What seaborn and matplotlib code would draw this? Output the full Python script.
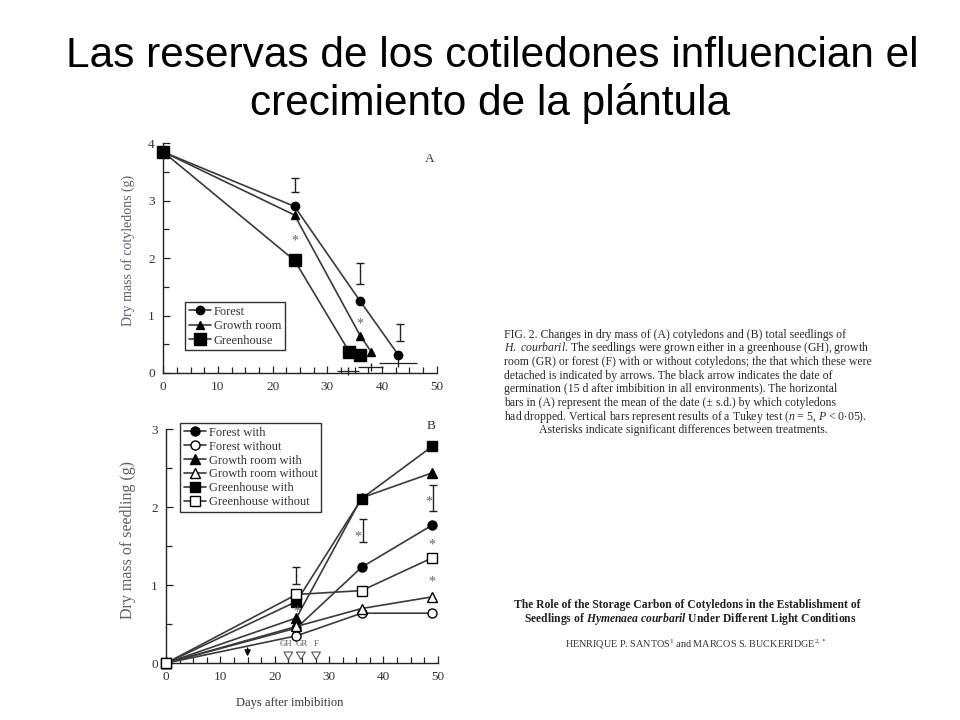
import matplotlib
matplotlib.use("Agg")
import matplotlib.pyplot as plt
import seaborn as sns
import numpy as np
from matplotlib.ticker import MultipleLocator

# ---------------- data ----------------
# Panel A: dry mass of cotyledons (g)
days_A_forest = [0, 24, 36, 43]
forest_A = [3.85, 2.90, 1.25, 0.31]
days_A_growth = [0, 24, 36, 38]
growth_A = [3.85, 2.75, 0.65, 0.37]
days_A_green = [0, 24, 34, 36]
green_A = [3.85, 1.96, 0.37, 0.32]

tukey_A_x = [24, 36, 43.2]
tukey_A_low = [3.15, 1.55, 0.55]
tukey_A_high = [3.40, 1.92, 0.85]

drop_A_mean = [42.9, 37.9, 33.7]
drop_A_y = [0.17, 0.10, 0.03]
drop_A_sd = [3.5, 2.3, 2.0]

star_A_x = [24, 36]
star_A_y = [2.30, 0.85]

# Panel B: dry mass of seedling (g)
days_B = [0, 24, 36, 49]
forest_with = [0, 0.45, 1.23, 1.77]
forest_without = [0, 0.35, 0.64, 0.64]
growth_with = [0, 0.58, 2.12, 2.44]
growth_without = [0, 0.47, 0.70, 0.85]
green_with = [0, 0.79, 2.11, 2.78]
green_without = [0, 0.88, 0.93, 1.35]

tukey_B_x = [24, 36.2, 49.2]
tukey_B_low = [1.02, 1.55, 1.95]
tukey_B_high = [1.23, 1.85, 2.28]

star_B_x = [24, 35.2, 48.3, 49, 49]
star_B_y = [0.66, 1.62, 2.07, 1.52, 1.04]

germination_day = 15
detach_days = [22.5, 24.8, 27.6]
detach_labels = ["GH", "GR", "F"]
detach_label_x = [22.1, 25.0, 27.7]

# ---------------- style ----------------
sns.set_style("ticks")
plt.rcParams["font.family"] = ["Liberation Serif", "DejaVu Serif"]
plt.rcParams["mathtext.fontset"] = "custom"
plt.rcParams["mathtext.rm"] = "Liberation Serif"
plt.rcParams["mathtext.it"] = "Liberation Serif:italic"
plt.rcParams["mathtext.bf"] = "Liberation Serif:bold"
plt.rcParams["mathtext.bfit"] = "Liberation Serif:italic:bold"

LINE = "#3a3a3a"
TXT = "#333333"

fig = plt.figure(figsize=(9.6, 7.2), dpi=100)
fig.patch.set_facecolor("white")


def style_axes(ax, ymax):
    ax.set_xlim(0, 50)
    ax.set_ylim(0, ymax)
    ax.spines["top"].set_visible(False)
    ax.spines["right"].set_visible(False)
    for s in ["left", "bottom"]:
        ax.spines[s].set_linewidth(1.0)
        ax.spines[s].set_color("#222222")
    ax.xaxis.set_major_locator(MultipleLocator(10))
    ax.xaxis.set_minor_locator(MultipleLocator(2.5))
    ax.yaxis.set_major_locator(MultipleLocator(1))
    ax.yaxis.set_minor_locator(MultipleLocator(0.5))
    ax.tick_params(which="both", direction="in", color="#222222", width=0.9,
                   labelsize=9.5, labelcolor=TXT)
    ax.tick_params(which="major", length=5, pad=6)
    ax.tick_params(which="minor", length=4)
    ax.set_xlabel("")
    ax.set_ylabel("")
    ax.set_facecolor("white")


def series(ax, x, y, marker, ms, face, label):
    sns.lineplot(x=x, y=y, ax=ax, color=LINE, lw=1.2, marker=marker,
                 markersize=ms, markerfacecolor=face, markeredgecolor="black",
                 markeredgewidth=1.0, label=label, clip_on=False, zorder=3)


# ---------------- Panel A ----------------
axA = fig.add_axes([0.170, 0.482, 0.285, 0.319])
series(axA, days_A_forest, forest_A, "o", 6, "black", "Forest")
series(axA, days_A_growth, growth_A, "^", 6, "black", "Growth room")
series(axA, days_A_green, green_A, "s", 8, "black", "Greenhouse")
style_axes(axA, 4)

mid = [(l + h) / 2 for l, h in zip(tukey_A_low, tukey_A_high)]
half = [(h - l) / 2 for l, h in zip(tukey_A_low, tukey_A_high)]
axA.errorbar(tukey_A_x, mid, yerr=half, fmt="none", ecolor="#222222",
             elinewidth=1.0, capsize=3, capthick=1.0)
axA.errorbar(drop_A_mean, drop_A_y, xerr=drop_A_sd, fmt="|", color="#222222",
             ms=6, elinewidth=0.9, capsize=0, clip_on=False)
for x, y in zip(star_A_x, star_A_y):
    axA.text(x, y, "*", ha="center", va="center", fontsize=10, color="#666666")
axA.text(48.7, 3.72, "A", ha="center", va="center", fontsize=9.5, color=TXT)
legA = axA.legend(loc="upper left", bbox_to_anchor=(0.08, 0.309), borderaxespad=0,
                  frameon=True, fancybox=False, edgecolor="black", fontsize=9,
                  handlelength=1.8, handletextpad=0.2, labelspacing=0.2,
                  borderpad=0.3, labelcolor=TXT)
legA.get_frame().set_linewidth(1.0)
fig.text(0.133, 1 - 250 / 720, "Dry mass of cotyledons (g)", rotation=90,
         ha="center", va="center", fontsize=10, color="#5a5f70")

# ---------------- Panel B ----------------
axB = fig.add_axes([0.173, 0.079, 0.283, 0.325])
series(axB, days_B, forest_with, "o", 6.5, "black", "Forest with")
series(axB, days_B, forest_without, "o", 6.5, "white", "Forest without")
series(axB, days_B, growth_with, "^", 6.5, "black", "Growth room with")
series(axB, days_B, growth_without, "^", 6.5, "white", "Growth room without")
series(axB, days_B, green_with, "s", 7.5, "black", "Greenhouse with")
series(axB, days_B, green_without, "s", 7.5, "white", "Greenhouse without")
style_axes(axB, 3)

mid = [(l + h) / 2 for l, h in zip(tukey_B_low, tukey_B_high)]
half = [(h - l) / 2 for l, h in zip(tukey_B_low, tukey_B_high)]
axB.errorbar(tukey_B_x, mid, yerr=half, fmt="none", ecolor="#222222",
             elinewidth=1.0, capsize=3, capthick=1.0, clip_on=False)
for x, y in zip(star_B_x, star_B_y):
    axB.text(x, y, "*", ha="center", va="center", fontsize=10, color="#666666")

axB.annotate("", xy=(germination_day, 0.05), xytext=(germination_day, 0.23),
             arrowprops=dict(arrowstyle="-|>", color="black", lw=1.0,
                             mutation_scale=9))
for x, lx, lab in zip(detach_days, detach_label_x, detach_labels):
    axB.annotate("", xy=(x, 0.01), xytext=(x, 0.17),
                 arrowprops=dict(arrowstyle="simple,head_width=0.7,head_length=0.6,tail_width=0.3",
                                 fc="white", ec="#555555", lw=0.8,
                                 mutation_scale=9))
    axB.text(lx, 0.245, lab, ha="center", va="center", fontsize=6.3, color="#555555")

axB.text(48.7, 3.04, "B", ha="center", va="center", fontsize=9.5, color=TXT)
legB = axB.legend(loc="upper left", bbox_to_anchor=(0.051, 1.026), borderaxespad=0,
                  frameon=True, fancybox=False, edgecolor="black", fontsize=9,
                  handlelength=1.8, handletextpad=0.2, labelspacing=0.15,
                  borderpad=0.3, labelcolor=TXT)
legB.get_frame().set_linewidth(1.0)
fig.text(0.133, 1 - 540 / 720, "Dry mass of seedling (g)", rotation=90,
         ha="center", va="center", fontsize=11.5, color="#5a5f70")
fig.text(0.302, 1 - 703 / 720, "Days after imbibition", ha="center", va="center",
         fontsize=9, color=TXT)

# ---------------- slide title ----------------
fig.text(0.513, 1 - 67 / 720, "Las reservas de los cotiledones influencian el",
         ha="center", va="baseline", fontsize=30.5, family="Liberation Sans",
         color="black")
fig.text(0.511, 1 - 115 / 720, "crecimiento de la plántula",
         ha="center", va="baseline", fontsize=30.5, family="Liberation Sans",
         color="black")

# ---------------- caption ----------------
caption = [
    "FIG. 2. Changes in dry mass of (A) cotyledons and (B) total seedlings of",
    r"$\it{H.\ courbaril}$. The seedlings were grown either in a greenhouse (GH), growth",
    "room (GR) or forest (F) with or without cotyledons; the that which these were",
    "detached is indicated by arrows. The black arrow indicates the date of",
    "germination (15 d after imbibition in all environments). The horizontal",
    "bars in (A) represent the mean of the date (\u00b1 s.d.) by which cotyledons",
    r"had dropped. Vertical bars represent results of a Tukey test ($\it{n}$ = 5, $\it{P}$ < 0$\cdot$05).",
]
cap_y = [335, 348, 362, 376, 389, 403, 417]
for t, y in zip(caption, cap_y):
    fig.text(0.525, 1 - y / 720, t, ha="left", va="center", fontsize=8.5,
             color="#2a2a2a")
fig.text(0.712, 1 - 430 / 720,
         "Asterisks indicate significant differences between treatments.",
         ha="center", va="center", fontsize=8.5, color="#2a2a2a")

fig.text(0.716, 1 - 605 / 720,
         "The Role of the Storage Carbon of Cotyledons in the Establishment of",
         ha="center", va="center", fontsize=8.4, fontweight="bold", color="#222222")
fig.text(0.719, 1 - 619 / 720,
         r"Seedlings of $\mathbfit{Hymenaea\ courbaril}$ Under Different Light Conditions",
         ha="center", va="center", fontsize=8.4, fontweight="bold", color="#222222")
fig.text(0.725, 1 - 644 / 720,
         r"HENRIQUE P. SANTOS$^{1}$ and MARCOS S. BUCKERIDGE$^{2,*}$",
         ha="center", va="center", fontsize=7.3, color="#333333")

fig.savefig("out.png", dpi=100, facecolor="white")
